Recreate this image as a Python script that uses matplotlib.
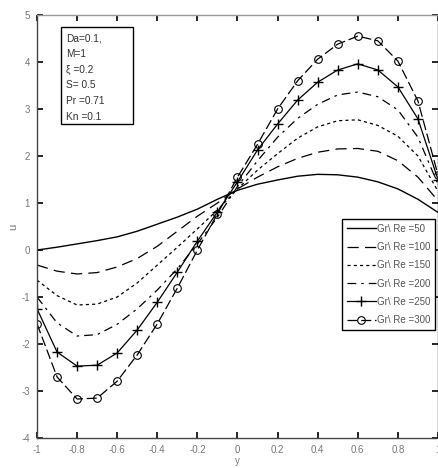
import matplotlib
matplotlib.use("Agg")
import matplotlib.pyplot as plt
from matplotlib.patches import Rectangle

plt.rcParams['axes.unicode_minus'] = False
plt.rcParams['font.family'] = ['Liberation Sans Narrow', 'Liberation Sans', 'DejaVu Sans']

y_vals = [-1.0, -0.9, -0.8, -0.7, -0.6, -0.5, -0.4, -0.3, -0.2, -0.1, 0.0,
          0.1, 0.2, 0.3, 0.4, 0.5, 0.6, 0.7, 0.8, 0.9, 1.0]

u_gr50 = [0.0, 0.06, 0.13, 0.2, 0.28, 0.4, 0.55, 0.7, 0.87, 1.08, 1.27,
          1.4, 1.49, 1.57, 1.61, 1.6, 1.55, 1.45, 1.3, 1.08, 0.8]
u_gr100 = [-0.32, -0.45, -0.51, -0.48, -0.36, -0.18, 0.08, 0.4, 0.72, 1.0, 1.3,
           1.55, 1.77, 1.95, 2.08, 2.15, 2.16, 2.1, 1.9, 1.55, 1.05]
u_gr150 = [-0.64, -0.97, -1.17, -1.15, -1.0, -0.7, -0.32, 0.06, 0.45, 0.85, 1.3,
           1.7, 2.05, 2.38, 2.62, 2.75, 2.77, 2.65, 2.42, 2.0, 1.25]
u_gr200 = [-1.0, -1.55, -1.83, -1.8, -1.58, -1.25, -0.85, -0.4, 0.13, 0.7, 1.35,
           1.9, 2.4, 2.8, 3.1, 3.3, 3.36, 3.26, 2.98, 2.4, 1.4]
u_gr250 = [-1.25, -2.17, -2.47, -2.45, -2.19, -1.70, -1.11, -0.47, 0.19, 0.81, 1.45,
           2.13, 2.68, 3.19, 3.57, 3.83, 3.96, 3.83, 3.47, 2.79, 1.5]
u_gr300 = [-1.57, -2.7, -3.17, -3.15, -2.79, -2.23, -1.57, -0.81, 0.0, 0.77, 1.55,
           2.25, 3.0, 3.6, 4.06, 4.38, 4.55, 4.45, 4.02, 3.17, 1.6]

labels = ['Gr\\ Re =50', 'Gr\\ Re =100', 'Gr\\ Re =150',
          'Gr\\ Re =200', 'Gr\\ Re =250', 'Gr\\ Re =300']

xticks = [-1, -0.8, -0.6, -0.4, -0.2, 0, 0.2, 0.4, 0.6, 0.8, 1]
xticklabels = ['-1', '-0.8', '-0.6', '-0.4', '-0.2', '0', '0.2', '0.4', '0.6', '0.8', '1']
yticks = [-4, -3, -2, -1, 0, 1, 2, 3, 4, 5]
yticklabels = ['-4', '-3', '-2', '-1', '0', '1', '2', '3', '4', '5']

params = ['Da=0.1,', 'M=1', 'ξ =0.2', 'S= 0.5', 'Pr =0.71', 'Kn =0.1']

fig = plt.figure(figsize=(4.39, 4.68), dpi=100)
ax = fig.add_axes([0.0843, 0.064, 0.9134, 0.904])

k = 'black'
ax.plot(y_vals, u_gr50, color=k, lw=1.0, ls='-', label=labels[0])
ax.plot(y_vals, u_gr100, color=k, lw=0.9, ls=(0, (9, 5)), label=labels[1])
ax.plot(y_vals, u_gr150, color=k, lw=0.9, ls=(0, (2.5, 2.5)), label=labels[2])
ax.plot(y_vals, u_gr200, color=k, lw=0.9, ls=(0, (7, 4, 2, 4)), label=labels[3])
ax.plot(y_vals, u_gr250, color=k, lw=0.9, ls='-', marker='+', ms=6.5, mew=1.0, label=labels[4])
ax.plot(y_vals, u_gr300, color=k, lw=0.9, ls=(0, (8, 3)), marker='o', ms=5.5,
        mfc='none', mew=0.8, label=labels[5])

ax.set_xlim(-1, 1)
ax.set_ylim(-4, 5)
ax.set_xticks(xticks)
ax.set_xticklabels(xticklabels)
ax.set_yticks(yticks)
ax.set_yticklabels(yticklabels)
ax.tick_params(direction='in', length=4, width=1.2, top=True, right=True,
               labelsize=7, labelcolor='#777777', pad=5)
for s in ax.spines.values():
    s.set_linewidth(1.0)
    s.set_color('#444444')
ax.spines['top'].set_color('#999999')

ax.set_xlabel('y', fontsize=7, color='#777777', labelpad=1)
ax.set_ylabel('u', fontsize=8, color='#777777', labelpad=2)

# parameter box
ax.add_patch(Rectangle((0.06, 0.743), 0.18, 0.229, transform=ax.transAxes,
                       fill=False, ec='black', lw=1.0, zorder=5))
for i, t in enumerate(params):
    ax.text(0.072, 0.945 - i * 0.037, t, transform=ax.transAxes, fontsize=7.3,
            color='#333333', va='center', ha='left')

leg = ax.legend(loc='upper left', bbox_to_anchor=(0.76, 0.518), fontsize=7,
                frameon=True, fancybox=False, edgecolor='black', framealpha=1,
                handlelength=3.0, handletextpad=0.1, labelspacing=0.85,
                borderpad=0.5, borderaxespad=0)
leg.get_frame().set_linewidth(1.0)
for t in leg.get_texts():
    t.set_color('#555555')

fig.savefig('out.png', dpi=100)
